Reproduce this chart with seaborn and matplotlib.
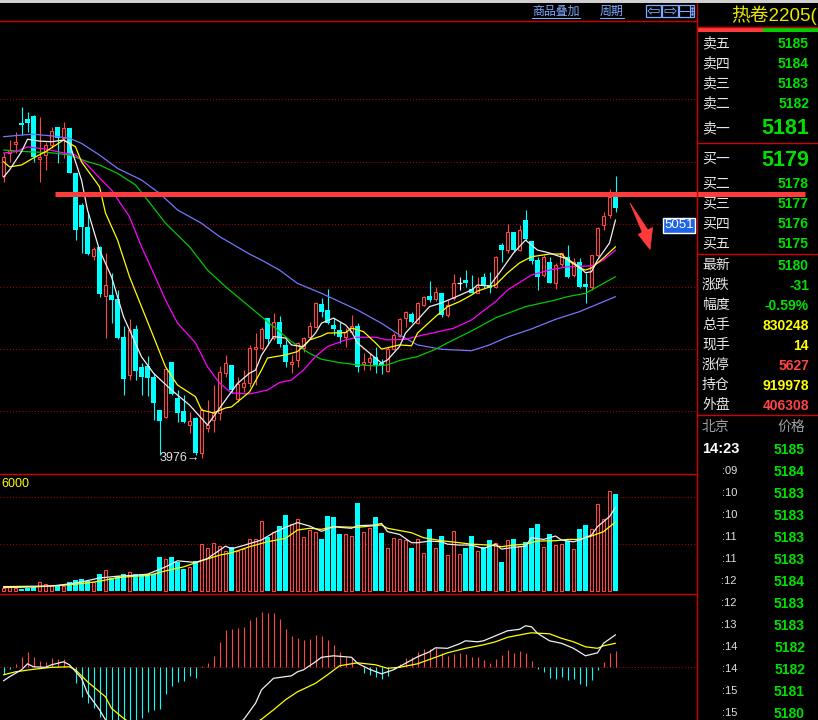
import numpy as np
import matplotlib
matplotlib.use('Agg')
import matplotlib.pyplot as plt
import seaborn as sns
from matplotlib.patches import Rectangle, Polygon

# ---------------- data ----------------
opens = [5332,5441,5485,5588,5606,5621,5412,5433,5481,5566,
         5513,5564,5345,5193,5088,4949,4992,4756,4760,4741,
         4560,4375,4595,4415,4419,4364,4207,4175,4439,4263,
         4204,4135,4167,4002,4119,4159,4191,4387,4424,4259,
         4317,4336,4500,4504,4648,4552,4632,4520,4428,4448,
         4504,4557,4608,4715,4688,4616,4592,4557,4584,4611,
         4428,4440,4464,4435,4396,4500,4563,4648,4669,4627,
         4712,4755,4739,4768,4664,4744,4819,4832,4788,4771,
         4845,4808,4797,5000,4976,5065,4976,5121,5020,4928,
         4856,4920,4816,4909,4941,4856,4920,4813,4800,4952,
         5097,5145,5233]
highs = [5443,5505,5545,5665,5641,5625,5617,5497,5569,5569,
         5590,5564,5345,5200,5161,4992,4995,4963,4867,4784,
         4612,4643,4616,4432,4467,4384,4207,4415,4439,4303,
         4279,4199,4175,4217,4255,4327,4419,4472,4424,4367,
         4399,4520,4579,4607,4648,4675,4659,4544,4472,4536,
         4560,4632,4728,4744,4788,4648,4632,4600,4664,4624,
         4480,4480,4512,4451,4512,4576,4648,4685,4680,4728,
         4755,4827,4797,4768,4736,4861,4845,4880,4856,4848,
         4864,4872,4948,5009,5101,5065,5097,5169,5020,4944,
         4952,4944,4912,4961,5000,4936,4936,4864,4952,5089,
         5161,5268,5332]
lows = [5303,5400,5441,5529,5545,5401,5305,5361,5465,5393,
        5417,5345,5024,4961,4952,4928,4749,4552,4624,4547,
        4279,4351,4351,4279,4274,4159,3990,4167,4279,4151,
        4146,4095,3990,3976,4103,4103,4159,4367,4287,4247,
        4295,4319,4327,4496,4520,4544,4512,4415,4387,4415,
        4488,4552,4605,4656,4621,4568,4528,4512,4576,4391,
        4399,4399,4387,4380,4391,4496,4560,4608,4627,4621,
        4707,4728,4732,4656,4656,4736,4784,4800,4768,4768,
        4792,4768,4792,4920,4964,4968,4973,5025,4909,4784,
        4848,4816,4788,4900,4840,4848,4792,4720,4784,4944,
        5073,5129,5161]
closes = [5425,5457,5497,5576,5588,5425,5425,5481,5548,5513,
          5564,5348,5073,5086,4956,4980,4765,4808,4736,4552,
          4358,4592,4395,4364,4360,4239,4156,4403,4284,4194,
          4151,4154,3999,4207,4135,4191,4391,4435,4303,4332,
          4339,4507,4508,4595,4547,4632,4525,4440,4440,4531,
          4552,4611,4720,4680,4624,4595,4557,4584,4611,4413,
          4440,4456,4424,4419,4499,4568,4643,4677,4632,4720,
          4749,4736,4773,4664,4712,4816,4819,4819,4771,4800,
          4808,4795,4944,4976,5065,4976,5073,5028,4925,4845,
          4944,4819,4904,4961,4848,4920,4800,4797,4952,5081,
          5140,5233,5180]

ma5_idx = [0,1,3,4,6,8,10,11,13,14,16,18,20,23,25,28,31,34,37,39,41,42,43,45,47,48,50,52,53,55,57,58,59,61,63,64,66,67,69,71,73,75,78,79,81,83,85,87,89,91,92,94,96,97,98,99,101,102]
ma5_val = [5327,5361,5449,5509,5500,5497,5505,5489,5313,5169,4976,4848,4656,4463,4384,4303,4231,4135,4255,4335,4384,4399,4470,4560,4553,4520,4511,4577,4625,4649,4616,4584,4529,4481,4433,4448,4512,4577,4640,4704,4722,4746,4784,4808,4803,4880,4962,5024,4976,4962,4952,4933,4895,4867,4872,4928,5010,5121]
ma10_idx = [0,1,3,5,7,10,12,13,16,17,19,21,23,25,27,29,32,33,35,37,38,41,43,44,47,49,51,53,54,57,58,60,62,63,66,68,69,72,74,76,78,79,82,84,86,88,91,93,94,96,97,98,100,102]
ma10_val = [5401,5376,5385,5419,5449,5505,5473,5400,5281,5154,5025,4848,4704,4560,4415,4327,4271,4207,4193,4217,4222,4294,4399,4457,4472,4488,4544,4563,4577,4579,4601,4584,4530,4500,4520,4516,4577,4656,4704,4728,4760,4779,4808,4866,4914,4944,4957,4957,4928,4890,4880,4890,4938,4992]
ma20_idx = [0,2,4,7,9,12,14,16,18,21,23,25,27,29,32,34,36,38,41,44,46,48,50,52,54,57,59,62,64,67,70,73,75,78,82,84,88,91,94,98,100,102]
ma20_val = [5443,5449,5472,5462,5449,5433,5385,5323,5265,5136,4992,4866,4736,4625,4530,4415,4337,4289,4284,4303,4339,4351,4399,4464,4512,4544,4557,4557,4544,4547,4568,4587,4600,4640,4728,4784,4856,4880,4896,4900,4928,4976]
ma40_idx = [0,4,8,11,14,16,19,22,24,27,31,34,37,39,42,45,48,51,53,56,59,62,64,66,69,72,74,78,82,87,92,94,97,99,102]
ma40_val = [5457,5449,5444,5433,5401,5385,5345,5289,5217,5105,4992,4880,4800,4752,4680,4608,4536,4480,4451,4435,4424,4419,4424,4445,4464,4499,4530,4587,4650,4704,4736,4752,4768,4800,4848]
ma60_idx = [0,3,5,8,11,13,16,19,23,26,29,33,36,41,43,46,49,53,56,59,63,66,69,73,78,81,84,88,92,96,98,102]
ma60_val = [5521,5529,5533,5525,5514,5489,5433,5369,5313,5249,5169,5105,5041,4957,4928,4880,4816,4768,4728,4688,4624,4568,4520,4499,4492,4520,4558,4597,4643,4680,4704,4752]

volumes = [2.6,4.6,2.9,1.7,2.9,3.4,8.0,6.3,5.1,4.6,
           4.0,7.4,9.1,10.3,8.3,8.0,14.3,17.7,11.4,12.6,
           14.3,16.5,14.8,14.8,14.3,14.8,28.8,27.4,28.8,24.8,
           18.8,20.5,25.4,39.9,36.5,40.8,38.2,33.7,37.1,33.7,
           35.9,43.9,43.9,59.6,45.6,50.2,55.3,64.8,57.1,61.1,
           45.6,51.9,50.2,44.5,63.9,63.1,48.8,48.5,46.8,74.5,
           50.2,53.4,63.1,49.4,36.5,44.8,43.9,43.4,36.5,43.9,
           32.2,52.8,36.5,46.8,30.5,50.8,31.1,36.5,46.8,34.0,
           37.1,43.4,40.5,24.5,43.1,44.2,38.2,41.7,53.6,57.1,
           37.1,48.5,38.8,39.7,42.2,35.4,52.8,56.2,52.8,74.2,
           61.3,85.3,82.7]
vma5_idx = [0,8,10,13,16,19,22,24,27,29,32,34,37,38,40,43,45,47,49,51,53,55,56,58,59,62,63,64,66,68,69,71,73,74,76,78,80,82,83,85,87,88,90,92,93,95,96,98,99,101,102]
vma5_val = [3.7,4.3,5.4,7.7,11.1,12.6,13.4,14.3,20.5,25.7,24.3,27.7,38.2,35.9,38.8,43.4,49.6,54.2,58.2,55.3,50.8,54.8,54.2,53.4,55.6,56.2,57.6,50.5,48.2,41.1,41.1,42.5,41.9,39.9,39.1,39.1,36.2,39.9,35.7,37.1,38.2,45.4,43.9,46.8,43.4,41.9,43.4,47.6,54.8,63.3,71.3]
vma10_idx = [0,5,10,13,16,19,22,24,27,30,33,36,38,41,44,47,49,51,53,55,59,63,64,68,70,73,76,78,81,83,85,87,89,92,94,96,98,100,102]
vma10_val = [2.9,3.4,4.9,6.3,8.3,11.4,12.6,13.1,17.1,20.5,25.7,30.5,32.5,37.7,41.9,44.8,51.9,53.4,52.5,54.8,54.2,56.2,53.4,49.6,45.4,42.8,41.1,39.9,39.1,37.7,39.1,39.9,42.5,42.8,43.9,43.9,46.8,50.5,58.8]

macd_hist = [-13,-3,7,20,31,20,13,11,19,17,
             17,1,-32,-59,-72,-81,-99,-115,-120,-122,
             -122,-118,-108,-102,-89,-85,-84,-53,-37,-30,
             -27,-17,-22,2,9,23,51,75,76,79,
             81,95,101,111,108,108,96,76,63,58,
             55,56,65,63,55,45,30,21,18,1,
             -11,-15,-20,-24,-17,-4,7,18,20,30,
             36,36,39,29,23,27,29,27,21,20,
             15,8,16,25,35,29,33,29,13,-3,
             -9,-21,-23,-20,-25,-23,-33,-37,-25,-5,
             11,29,33]
dif_idx = [0,1,3,4,5,7,8,10,11,13,14,16,17,22,32,40,42,43,45,48,49,50,52,53,55,58,59,61,63,65,67,69,71,72,74,76,77,79,80,82,84,86,87,88,89,91,93,95,97,99,100,102]
dif_val = [-27,-19,-5,7,1,0,5,11,5,-22,-52,-85,-105,-170,-160,-105,-72,-45,-22,-17,-9,-5,11,20,23,20,8,-4,-13,-5,8,21,31,39,38,47,53,51,53,63,73,76,83,81,68,53,48,38,23,29,48,65]
dea_idx = [0,2,5,8,11,12,14,17,18,20,26,36,43,45,47,49,52,54,56,59,62,64,66,69,72,74,77,80,82,84,87,88,91,93,95,97,99,100,102]
dea_val = [-15,-9,-4,0,1,-5,-29,-59,-82,-102,-150,-150,-104,-85,-65,-49,-32,-15,3,9,5,-2,0,7,20,29,38,45,51,60,67,69,67,58,51,41,38,43,48]

price_grid = [4200, 4500, 4800, 5100, 5400, 5700]
vol_grid = [40, 80]
resistance = 5245
vol_label = '6000'
cursor_label = '5051'

title = '热卷2205('
book_labels = ['卖五', '卖四', '卖三', '卖二', '卖一', '买一', '买二', '买三', '买四', '买五']
book_prices = ['5185', '5184', '5183', '5182', '5181', '5179', '5178', '5177', '5176', '5175']
stat_labels = ['最新', '涨跌', '幅度', '总手', '现手', '涨停', '持仓', '外盘']
stat_values = ['5180', '-31', '-0.59%', '830248', '14', '5627', '919978', '406308']
stat_kind = ['g', 'g', 'g', 'y', 'y', 'r', 'y', 'r']
tick_times = ['14:23', ':09', ':10', ':10', ':11', ':11', ':12', ':12', ':13', ':14', ':14', ':15', ':15']
tick_prices = ['5185', '5184', '5183', '5183', '5183', '5183', '5184', '5183', '5183', '5182', '5182', '5181', '5180']

# ---------------- style ----------------
sns.set_theme(style='dark', rc={'figure.facecolor': 'black', 'axes.facecolor': 'black',
                                'savefig.facecolor': 'black'})
plt.rcParams['font.family'] = ['Liberation Sans', 'Noto Sans CJK SC', 'DejaVu Sans']

RED = '#FF4646'; CYAN = '#00FFFF'; WHITE = '#F0F0F0'; YEL = '#FFFF00'
MAG = '#FF00FF'; MGRN = '#00C800'; BLU = '#7575FF'
GRID = '#B00000'; SEP = '#D00000'
TXT = '#E6E6E6'; VGRN = '#00E000'; VRED = '#FF4444'; LINK = '#7FAAFF'
kind_col = {'g': VGRN, 'y': YEL, 'r': VRED}

W, H = 818, 720
fig = plt.figure(figsize=(W / 100, H / 100), dpi=100)


def box(x0, y0, x1, y1):
    return [x0 / W, 1 - y1 / H, (x1 - x0) / W, (y1 - y0) / H]


axp = fig.add_axes(box(0, 21, 696, 474))
axv = fig.add_axes(box(0, 474, 696, 594))
axm = fig.add_axes(box(0, 594, 696, 720))

n = len(closes)
x = np.arange(n)
o = np.array(opens, float); c = np.array(closes, float)
h = np.array(highs, float); l = np.array(lows, float)
up = c > o; dn = c < o; eq = c == o
ccol = np.where(up, RED, np.where(dn, CYAN, WHITE))

# price grid
for p in price_grid:
    axp.axhline(p, color=GRID, lw=0.75, ls=(0, (1, 2)), zorder=1)

# candles
axp.vlines(x, l, h, colors=ccol, lw=0.8, zorder=2)
axp.bar(x[up], (c - o)[up], bottom=o[up], width=0.64, facecolor='black',
        edgecolor=RED, linewidth=0.8, zorder=3)
axp.bar(x[dn], (o - c)[dn], bottom=c[dn], width=0.8, color=CYAN, linewidth=0, zorder=3)
axp.hlines(o[eq], x[eq] - 0.4, x[eq] + 0.4, colors=WHITE, lw=0.9, zorder=3)

for ix, vals, col in [(ma60_idx, ma60_val, BLU), (ma40_idx, ma40_val, MGRN),
                      (ma20_idx, ma20_val, MAG), (ma10_idx, ma10_val, YEL),
                      (ma5_idx, ma5_val, WHITE)]:
    sns.lineplot(x=ix, y=vals, ax=axp, color=col, linewidth=0.9, legend=False, zorder=4)

# drawn resistance line (extends into the side panel)
axp.plot([8.6, 133.6], [resistance, resistance], color='#FF3B3B', lw=3.6,
         solid_capstyle='butt', clip_on=False, zorder=6)

# low label
imin = int(np.argmin(l))
axp.text(imin - 0.2, l[imin], f'{int(l[imin])}→', ha='right', va='center',
         color='#E0E0E0', fontsize=9, family=['Liberation Sans', 'DejaVu Sans'], zorder=7)

# volume
for g in vol_grid:
    axv.axhline(g, color=GRID, lw=0.75, ls=(0, (1, 2)), zorder=1)
v = np.array(volumes)
ue = up | eq
axv.bar(x[ue], v[ue], width=0.64, facecolor='black', edgecolor=RED, linewidth=0.8, zorder=2)
axv.bar(x[dn], v[dn], width=0.8, color=CYAN, linewidth=0, zorder=2)
sns.lineplot(x=vma10_idx, y=vma10_val, ax=axv, color=YEL, linewidth=0.9, legend=False, zorder=4)
sns.lineplot(x=vma5_idx, y=vma5_val, ax=axv, color=WHITE, linewidth=0.9, legend=False, zorder=4)
axv.text(1 / 696, 1 - 10 / 120, vol_label, transform=axv.transAxes, ha='left', va='center',
         color=YEL, fontsize=9)

# macd
hist = np.array(macd_hist, float)
axm.axhline(0, color=GRID, lw=0.75, ls=(0, (1, 2)), zorder=1)
axm.vlines(x, 0, hist, colors=np.where(hist >= 0, RED, CYAN), lw=0.8, zorder=2)
sns.lineplot(x=dea_idx, y=dea_val, ax=axm, color=YEL, linewidth=0.9, legend=False, zorder=4)
sns.lineplot(x=dif_idx, y=dif_val, ax=axm, color=WHITE, linewidth=0.9, legend=False, zorder=4)

for ax in (axp, axv, axm):
    ax.set_facecolor('black')
    ax.set_xlim(-3.5 / 6, (696 - 3.5) / 6)
    ax.set_xticks([]); ax.set_yticks([])
    ax.set_xlabel(''); ax.set_ylabel('')
    ax.grid(False)
    for s in ax.spines.values():
        s.set_visible(False)
axp.set_ylim(3899.4, 6077.4)
axv.set_ylim(-2.55, 99.6)
axm.set_ylim(-105.4, 146.6)

# ---------------- overlay (frame, header, side panel) ----------------
ov = fig.add_axes([0, 0, 1, 1], zorder=10)
ov.set_xlim(0, W); ov.set_ylim(H, 0); ov.axis('off'); ov.patch.set_alpha(0)

ov.add_patch(Rectangle((0, 0), W, 3, color='#CFCFCF', lw=0))
for yy in (21, 474, 594):
    ov.plot([0, 696], [yy, yy], color=SEP, lw=1.0)
ov.plot([696.5, 696.5], [3, 720], color=SEP, lw=1.0)
for yy in (26.5, 143, 254, 415):
    ov.plot([697, 818], [yy, yy], color=SEP, lw=1.0)
ov.add_patch(Rectangle((697, 28), 66, 4, color='#FF3A3A', lw=0))
ov.add_patch(Rectangle((763, 28), 55, 4, color='#00D000', lw=0))

# header links and buttons
ov.text(532, 12, '商品叠加', color=LINK, fontsize=8.6, ha='left', va='center')
ov.plot([532, 580], [17.5, 17.5], color=LINK, lw=0.8)
ov.text(600, 12, '周期', color=LINK, fontsize=8.6, ha='left', va='center')
ov.plot([600, 624], [17.5, 17.5], color=LINK, lw=0.8)
for bx in (645.5, 662, 678.5):
    ov.add_patch(Rectangle((bx, 4.5), 15.5, 12.5, fill=False, ec=LINK, lw=0.9))
ov.text(653.3, 10.5, '⇦', color=LINK, fontsize=11.5, ha='center', va='center', family='DejaVu Sans')
ov.text(669.8, 10.5, '⇨', color=LINK, fontsize=11.5, ha='center', va='center', family='DejaVu Sans')
ov.plot([689.5, 689.5], [5, 16.5], color=LINK, lw=0.8)
ov.plot([680, 689], [10.8, 10.8], color=LINK, lw=0.8)
for dy in (7.5, 10.5, 13.5):
    ov.plot([692], [dy], marker='s', ms=0.8, color=LINK)

# title
ov.text(731, 15.5, title, color='#E8E800', fontsize=13.5, ha='left', va='center')

# order book
book_y = [43, 63, 83, 103, 128, 159, 184, 204, 224, 244]
for k, (lab, val) in enumerate(zip(book_labels, book_prices)):
    big = k in (4, 5)
    ov.text(702, book_y[k], lab, color=TXT, fontsize=10, ha='left', va='center')
    ov.text(809, book_y[k] + (1 if big else 0.5), val, color=VGRN, fontsize=15.5 if big else 10,
            fontweight='bold', ha='right', va='center')

for k, (lab, val) in enumerate(zip(stat_labels, stat_values)):
    yy = 265 + 20 * k
    ov.text(702, yy, lab, color=TXT, fontsize=10, ha='left', va='center')
    ov.text(809, yy + 0.5, val, color=kind_col[stat_kind[k]], fontsize=10,
            fontweight='bold', ha='right', va='center')

# tick list
ov.text(702, 427, '北京', color='#A0A0A0', fontsize=10, ha='left', va='center')
ov.text(805, 427, '价格', color='#A0A0A0', fontsize=10, ha='right', va='center')
for k, (t, p) in enumerate(zip(tick_times, tick_prices)):
    yy = 449 + 22 * k
    if k == 0:
        ov.text(702, yy, t, color='white', fontsize=10.5, fontweight='bold', ha='left', va='center')
    else:
        ov.text(737, yy, t, color='#E0E0E0', fontsize=8, ha='right', va='center')
    ov.text(805, yy + 0.5, p, color=VGRN, fontsize=10, fontweight='bold', ha='right', va='center')

# cursor price tag and hand-drawn arrow
ov.text(679, 225.5, cursor_label, color='white', fontsize=9.5, ha='center', va='center',
        bbox=dict(boxstyle='square,pad=0.12', fc='#1E64E6', ec='white', lw=1.0))
arrow_shape = [(630, 203), (647.8, 229.8), (652.6, 227.5), (650, 249.5),
               (638.3, 234.5), (642.2, 232.2)]
ov.add_patch(Polygon(arrow_shape, closed=True, fc='#FF3B3B', ec='#FF3B3B', lw=0.5))

fig.savefig('out.png', dpi=100, facecolor='black')
